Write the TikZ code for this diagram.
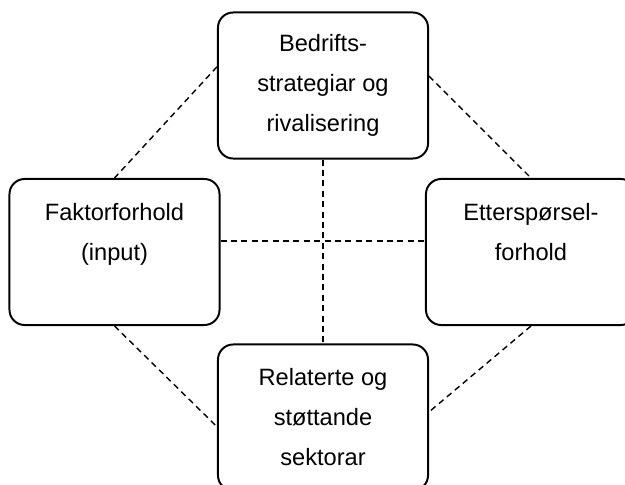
\documentclass[tikz,border=0pt]{standalone}
\usepackage{fontspec}
\setmainfont{Liberation Sans}
\usepackage{tikz}
\usetikzlibrary{positioning}
\tikzset{%
	factor/.style   = {draw, rectangle, rounded corners=0.38cm, line width=1.4pt, minimum width=5.25cm, minimum height=3.65cm, align=center, font=\fontsize{16.8pt}{28.45pt}\selectfont}, % Box
	link/.style     = {line width=1pt, dash pattern=on 0.15cm off 0.11cm}, % Dashed tie
}

\begin{document}
\begin{tikzpicture}[x=0.025cm,y=-0.025cm]
	\useasboundingbox (0,0) rectangle (625,485);
	\clip (0,0) rectangle (625,485);
	
	\node [factor] (strat) at (323,85.5) {Bedrifts-\\strategiar og\\rivalisering};
	\node [factor] (input) at (114.5,252) {Faktorforhold\\(input)\\\mbox{}};
	\node [factor] (demand) at (531,252) {Etterspørsel-\\forhold\\\mbox{}};
	\node [factor] (sector) at (323,417.5) {Relaterte og\\støttande\\sektorar};
	
	\draw[link] (strat.south) -- (sector.north);
	\draw[link] (input.6) -- (demand.174);
	\draw[link] (strat.170) -- (input.north);
	\draw[link] (strat.5) -- (demand.north);
	\draw[link] (input.south) -- (sector.185);
	\draw[link] (demand.south) -- (sector.3);
\end{tikzpicture}
\end{document}
